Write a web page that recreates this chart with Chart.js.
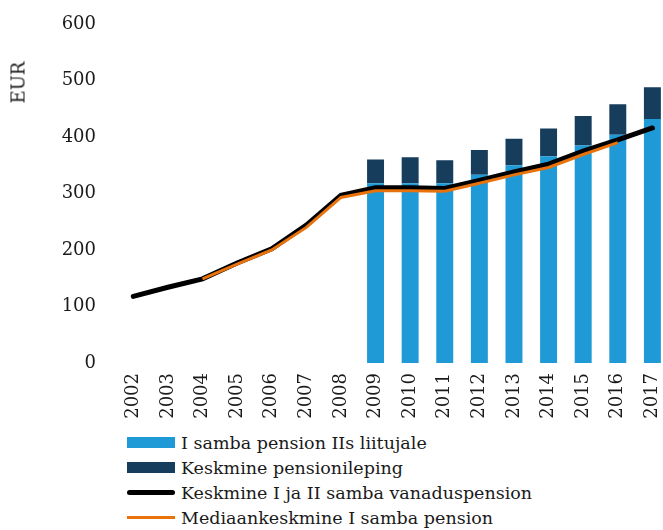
<!DOCTYPE html>
<html>
<head>
<meta charset="utf-8">
<script src="https://cdn.jsdelivr.net/npm/chart.js@4.4.1/dist/chart.umd.min.js"></script>
<style>
  body { margin: 0; width: 663px; height: 530px; overflow: hidden; background: #fff; }
  #wrap { position: relative; width: 684px; height: 425px; }
  #unit {
    position: absolute; left: -4px; top: 72px; width: 44px; text-align: center;
    font: 18px "DejaVu Serif"; color: #1a1a1a; transform: rotate(-90deg);
  }
  #legend { position: absolute; left: 127px; top: 430px; font: 17.5px "DejaVu Serif"; color: #1a1a1a; }
  .item { height: 25px; display: flex; align-items: center; }
  .swatch { width: 48px; margin-right: 6px; }
</style>
</head>
<body>
<div id="wrap">
  <canvas id="chart" width="684" height="425"></canvas>
  <div id="unit">EUR</div>
</div>
<div id="legend"></div>
<script>
const years = ["2002", "2003", "2004", "2005", "2006", "2007", "2008", "2009",
  "2010", "2011", "2012", "2013", "2014", "2015", "2016", "2017"];

// I samba pension IIs liitujale
const firstPillar = [null, null, null, null, null, null, null, 318,
  318, 318, 333, 350, 366, 385, 404, 432];
// Keskmine pensionileping
const contract = [null, null, null, null, null, null, null, 42,
  46, 41, 44, 47, 49, 52, 54, 56];
// Keskmine I ja II samba vanaduspension
const average = [118, 134, 149, 177, 202, 244, 297, 310,
  310, 309, 323, 338, 352, 375, 395, 416];
// Mediaankeskmine I samba pension
const median = [null, null, 149, 175, 200, 240, 293, 305,
  305, 304, 318, 333, 346, 369, 390, null];

const yTicks = [0, 100, 200, 300, 400, 500, 600];

const serif = "DejaVu Serif";
const textColor = "#1a1a1a";

const datasets = [
  {
    type: "line",
    label: "Mediaankeskmine I samba pension",
    data: median,
    borderColor: "#e8720c",
    borderWidth: 3,
    pointRadius: 0,
    stack: "median",
    order: 0,
  },
  {
    type: "line",
    label: "Keskmine I ja II samba vanaduspension",
    data: average,
    borderColor: "#000000",
    borderWidth: 5,
    borderCapStyle: "round",
    pointRadius: 0,
    stack: "average",
    order: 1,
  },
  {
    type: "bar",
    label: "I samba pension IIs liitujale",
    data: firstPillar,
    backgroundColor: "#1f9ad6",
    barPercentage: 0.49,
    categoryPercentage: 1,
    stack: "bars",
    order: 2,
  },
  {
    type: "bar",
    label: "Keskmine pensionileping",
    data: contract,
    backgroundColor: "#163d5c",
    barPercentage: 0.49,
    categoryPercentage: 1,
    stack: "bars",
    order: 2,
  },
];

new Chart(document.getElementById("chart"), {
  data: { labels: years, datasets: datasets },
  options: {
    responsive: false,
    animation: false,
    events: [],
    layout: { padding: { top: 24, left: 0, right: 0, bottom: 0 } },
    plugins: { legend: { display: false }, tooltip: { enabled: false } },
    scales: {
      x: {
        stacked: true,
        grid: { display: false, drawTicks: false },
        border: { display: false },
        ticks: {
          minRotation: 90,
          maxRotation: 90,
          padding: 10,
          color: textColor,
          font: { family: serif, size: 18 },
        },
        afterFit: (scale) => { scale.height = 62; },
      },
      y: {
        stacked: true,
        min: 0,
        max: 600,
        grid: { display: false, drawTicks: false },
        border: { display: false },
        afterBuildTicks: (scale) => { scale.ticks = yTicks.map((v) => ({ value: v })); },
        ticks: {
          padding: 20,
          color: textColor,
          font: { family: serif, size: 18 },
        },
        afterFit: (scale) => {
          scale.width = 116;
          scale.paddingTop = 0;
          scale.paddingBottom = 0;
        },
      },
    },
  },
});

// legend, one item per row in the order of the original
const legendItems = [
  { label: datasets[2].label, color: datasets[2].backgroundColor, h: 11, r: 0 },
  { label: datasets[3].label, color: datasets[3].backgroundColor, h: 11, r: 0 },
  { label: datasets[1].label, color: datasets[1].borderColor, h: 5, r: 3 },
  { label: datasets[0].label, color: datasets[0].borderColor, h: 3, r: 0 },
];
const legend = document.getElementById("legend");
legendItems.forEach((it) => {
  const row = document.createElement("div");
  row.className = "item";
  const sw = document.createElement("div");
  sw.className = "swatch";
  sw.style.height = it.h + "px";
  sw.style.background = it.color;
  sw.style.borderRadius = it.r + "px";
  const txt = document.createElement("span");
  txt.textContent = it.label;
  row.appendChild(sw);
  row.appendChild(txt);
  legend.appendChild(row);
});
</script>
</body>
</html>
